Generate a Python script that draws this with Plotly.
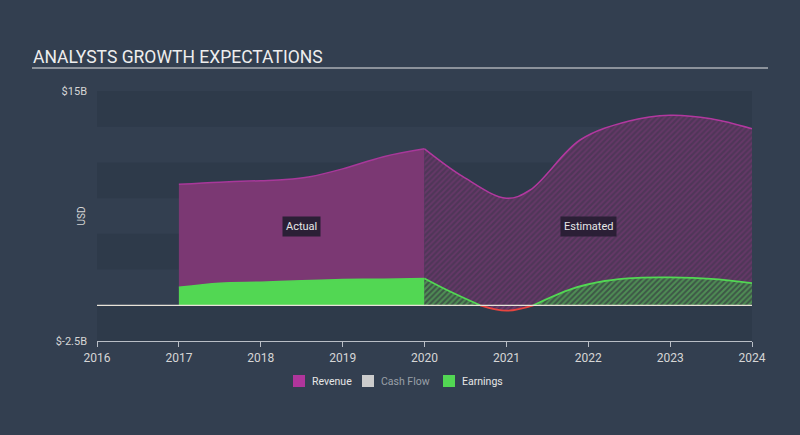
import plotly.graph_objects as go

# ---- data (values in $B) ----
rev_act_x = [2017, 2017.5, 2018, 2018.3, 2018.6, 2019, 2019.5, 2020]
rev_act_y = [8.47, 8.62, 8.72, 8.8, 9.0, 9.55, 10.4, 10.95]
rev_est_x = [2020, 2020.47, 2021, 2021.29, 2021.9, 2022.5, 2023, 2023.5, 2024]
rev_est_y = [10.95, 9.0, 7.49, 8.07, 11.57, 12.9, 13.3, 13.05, 12.35]

earn_act_x = [2017, 2017.5, 2018, 2018.5, 2019, 2019.5, 2020]
earn_act_y = [1.26, 1.55, 1.62, 1.72, 1.8, 1.83, 1.88]
earn_est_pos1_x = [2020, 2020.3, 2020.68]
earn_est_pos1_y = [1.88, 1.0, 0.0]
earn_est_neg_x = [2020.68, 2021.0, 2021.33]
earn_est_neg_y = [0.0, -0.38, 0.0]
earn_est_pos2_x = [2021.33, 2021.8, 2022.2, 2022.6, 2023, 2023.5, 2024]
earn_est_pos2_y = [0.0, 1.15, 1.7, 1.92, 1.95, 1.85, 1.55]

years = list(range(2016, 2025))
y_ticks = [15, -2.5]
y_ticklabels = ["$15B", "$-2.5B"]
band_step = 2.5

legend_names = ["Revenue", "Cash Flow", "Earnings"]
legend_colors = ["#b0359b", "#cccccc", "#52d753"]
legend_text_colors = ["#e6e6e6", "#9aa0a8", "#e6e6e6"]

BG = "#333f50"
BAND = "#2e3a4a"

# plot-area geometry (pixels) used to place layout decorations
L, R, T, B = 97, 752, 91, 341
W, H = R - L, B - T
def px(x):
    return (x - L) / W
def py(y):
    return (B - y) / H

fig = go.Figure()

# background bands
lo = -2.5
i = 0
while lo < 15:
    if i % 2 == 0:
        fig.add_shape(type="rect", xref="paper", yref="y", x0=0, x1=1,
                      y0=lo, y1=lo + band_step, fillcolor=BAND, line_width=0, layer="below")
    lo += band_step
    i += 1

# Revenue actual
fig.add_trace(go.Scatter(x=rev_act_x, y=rev_act_y, mode="lines", line=dict(color="#a8389a", width=1.5, shape="spline"),
                         fill="tozeroy", fillcolor="#7b3873", showlegend=False, hoverinfo="skip"))
# Revenue estimated
fig.add_trace(go.Scatter(x=rev_est_x, y=rev_est_y, mode="lines", line=dict(color="#b2389f", width=1.5, shape="spline"),
                         fill="tozeroy", fillcolor="rgba(0,0,0,0)",
                         fillpattern=dict(shape="/", fgcolor="#7d3a78", bgcolor="#4f3658", size=4, solidity=0.45),
                         showlegend=False, hoverinfo="skip"))
# Earnings actual
fig.add_trace(go.Scatter(x=earn_act_x, y=earn_act_y, mode="lines", line=dict(color="#52d753", width=1.5, shape="spline"),
                         fill="tozeroy", fillcolor="#52d753", showlegend=False, hoverinfo="skip"))
# Earnings estimated
for xs, ys, col, fg, bgc in [
    (earn_est_pos1_x, earn_est_pos1_y, "#52d753", "#62c664", "#3d5646"),
    (earn_est_neg_x, earn_est_neg_y, "#e8453f", "#8a3c82", "#4f3658"),
    (earn_est_pos2_x, earn_est_pos2_y, "#52d753", "#62c664", "#3d5646"),
]:
    fig.add_trace(go.Scatter(x=xs, y=ys, mode="lines", line=dict(color=col, width=1.8, shape="spline"),
                             fill="tozeroy", fillcolor="rgba(0,0,0,0)",
                             fillpattern=dict(shape="/", fgcolor=fg, bgcolor=bgc, size=4, solidity=0.5),
                             showlegend=False, hoverinfo="skip"))

# zero line
fig.add_hline(y=0, line=dict(color="#e8e2d8", width=1.2))

# manual legend
sw_x = [293, 362, 443]
for name, col, tcol, sx in zip(legend_names, legend_colors, legend_text_colors, sw_x):
    fig.add_shape(type="rect", xref="paper", yref="paper", x0=px(sx), x1=px(sx + 12),
                  y0=py(387), y1=py(375), fillcolor=col, line_width=0)
    fig.add_annotation(xref="paper", yref="paper", x=px(sx + 17), y=py(381), xanchor="left", yanchor="middle",
                       text=name, showarrow=False, font=dict(size=10.5, color=tcol, family="Roboto"))

# labels
for txt, xv in [("Actual", 2018.5), ("Estimated", 2022.0)]:
    fig.add_annotation(x=xv, y=5.5, text=txt, showarrow=False, font=dict(color="#e6e6e6", size=11, family="Roboto"),
                       bgcolor="#2b1f36", borderpad=3)

# USD axis label
fig.add_annotation(xref="paper", yref="paper", x=px(73), y=0.5, text="USD", textangle=-90,
                   showarrow=False, font=dict(size=10, color="#d6d6d6"))

# title underline
fig.add_shape(type="line", xref="paper", yref="paper", x0=px(32), x1=px(768),
              y0=py(68), y1=py(68), line=dict(color="#e6e6e6", width=1.2))

fig.update_layout(
    width=800, height=435,
    paper_bgcolor=BG, plot_bgcolor=BG,
    margin=dict(l=L, r=800 - R, t=T, b=435 - B),
    font=dict(family="Roboto", color="#d6d6d6"),
    showlegend=False,
    title=dict(text="ANALYSTS GROWTH EXPECTATIONS", x=33 / 800, xanchor="left", xref="container",
               y=1 - 57 / 435, yanchor="middle", yref="container",
               font=dict(size=17.5, color="#eeeeee", family="Roboto")),
    xaxis=dict(range=[2016, 2024], tickvals=years, ticktext=[str(y) for y in years],
               showgrid=False, zeroline=False, showline=True, linecolor="#b9bec6", linewidth=1.2,
               ticks="outside", ticklen=5, tickcolor="#b9bec6", tickfont=dict(size=12, color="#d6d6d6")),
    yaxis=dict(range=[-2.5, 15], tickvals=y_ticks, ticktext=y_ticklabels, showgrid=False, zeroline=False,
               tickfont=dict(size=11, color="#d6d6d6"), ticklabelstandoff=9),
)

fig.write_html("out.html", config={"displayModeBar": False},
               post_script="document.body.style.margin='0';document.body.style.background='" + BG + "';")
